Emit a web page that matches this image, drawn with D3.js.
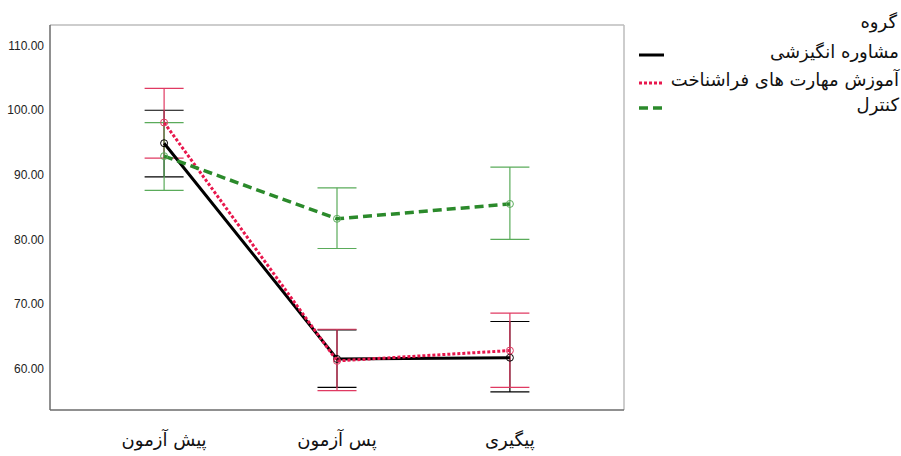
<!DOCTYPE html>
<html>
<head>
<meta charset="utf-8">
<script src="https://cdn.jsdelivr.net/npm/d3@7"></script>
<style>
  body { margin: 0; background: #fff; }
  svg { display: block; font-family: Tahoma, "DejaVu Sans", Arial, sans-serif; }
</style>
</head>
<body>
<svg id="chart" width="901" height="456"></svg>
<script>
// زمان‌های اندازه‌گیری
const stages = ["پیش آزمون", "پس آزمون", "پیگیری"];
const groups = ["مشاوره انگیزشی", "آموزش مهارت های فراشناخت", "کنترل"];
const yTicks = [60, 70, 80, 90, 100, 110];

// میانگین‌ها و فاصله اطمینان
const meanMotiv = [94.9, 61.5, 61.7];
const lowMotiv = [89.7, 57.1, 56.4];
const highMotiv = [100.0, 66.0, 67.3];

const meanMeta = [98.1, 61.2, 62.8];
const lowMeta = [92.6, 56.6, 57.1];
const highMeta = [103.4, 66.1, 68.6];

const meanCtrl = [92.9, 83.2, 85.5];
const lowCtrl = [87.6, 78.6, 80.0];
const highCtrl = [98.1, 88.0, 91.2];

const styles = [
  { line: "#000000", bar: "#000000", dash: null, width: 3 },
  { line: "#e8174d", bar: "#e03a62", dash: "3,2", width: 3 },
  { line: "#2b8a2b", bar: "#5aab5a", dash: "9,5", width: 3.5 }
];

const series = [
  { mean: meanMotiv, low: lowMotiv, high: highMotiv },
  { mean: meanMeta, low: lowMeta, high: highMeta },
  { mean: meanCtrl, low: lowCtrl, high: highCtrl }
];

const svg = d3.select("#chart");
const plotL = 50, plotR = 624, plotT = 25, plotB = 410;

const x = d3.scalePoint().domain(stages).range([plotL, plotR]).padding(0.66);
const y = d3.scaleLinear().domain([53.6, 113.2]).range([plotB, plotT]);

// frame
svg.append("line").attr("x1", plotL).attr("x2", plotR).attr("y1", plotT).attr("y2", plotT)
  .attr("stroke", "#bdbdbd").attr("stroke-width", 1.5);
svg.append("line").attr("x1", plotR).attr("x2", plotR).attr("y1", plotT).attr("y2", plotB)
  .attr("stroke", "#bdbdbd").attr("stroke-width", 1.5);
svg.append("line").attr("x1", plotL).attr("x2", plotL).attr("y1", plotT).attr("y2", plotB)
  .attr("stroke", "#6b6b6b").attr("stroke-width", 1.5);
svg.append("line").attr("x1", plotL).attr("x2", plotR).attr("y1", plotB).attr("y2", plotB)
  .attr("stroke", "#6b6b6b").attr("stroke-width", 1.5);

// y labels
svg.append("g").selectAll("text").data(yTicks).enter().append("text")
  .attr("x", 44).attr("y", d => y(d)).attr("dy", "0.35em")
  .attr("text-anchor", "end").attr("font-size", 12)
  .attr("font-family", "Arial, 'Liberation Sans', sans-serif")
  .attr("fill", "#222").text(d => d.toFixed(2));

// x labels
svg.append("g").selectAll("text").data(stages).enter().append("text")
  .attr("x", d => x(d)).attr("y", 446)
  .attr("text-anchor", "middle").attr("font-size", 18)
  .attr("fill", "#111").text(d => d);

// error bars
const cap = 19.5;
series.forEach((s, i) => {
  const g = svg.append("g").attr("stroke", styles[i].bar).attr("stroke-width", 1.2);
  stages.forEach((st, j) => {
    const cx = x(st);
    g.append("line").attr("x1", cx).attr("x2", cx).attr("y1", y(s.low[j])).attr("y2", y(s.high[j]));
    g.append("line").attr("x1", cx - cap).attr("x2", cx + cap).attr("y1", y(s.low[j])).attr("y2", y(s.low[j]));
    g.append("line").attr("x1", cx - cap).attr("x2", cx + cap).attr("y1", y(s.high[j])).attr("y2", y(s.high[j]));
  });
});

// mean lines
const line = d3.line().x((d, j) => x(stages[j])).y(d => y(d));
series.forEach((s, i) => {
  svg.append("path").datum(s.mean).attr("d", line)
    .attr("fill", "none").attr("stroke", styles[i].line)
    .attr("stroke-width", styles[i].width)
    .attr("stroke-dasharray", styles[i].dash);
  svg.append("g").selectAll("circle").data(s.mean).enter().append("circle")
    .attr("cx", (d, j) => x(stages[j])).attr("cy", d => y(d)).attr("r", 3.5)
    .attr("fill", "none").attr("stroke", styles[i].bar).attr("stroke-width", 1);
});

// legend
svg.append("text").attr("x", 897).attr("y", 28).attr("text-anchor", "end")
  .attr("font-size", 18).attr("fill", "#111").text("گروه");
const rowsY = [55, 83, 108];
groups.forEach((name, i) => {
  svg.append("line").attr("x1", 639).attr("x2", 664).attr("y1", rowsY[i]).attr("y2", rowsY[i])
    .attr("stroke", styles[i].line).attr("stroke-width", styles[i].width)
    .attr("stroke-dasharray", styles[i].dash);
  svg.append("text").attr("x", 899).attr("y", rowsY[i] + 3).attr("text-anchor", "end")
    .attr("font-size", 18).attr("fill", "#111").text(name);
});
</script>
</body>
</html>
